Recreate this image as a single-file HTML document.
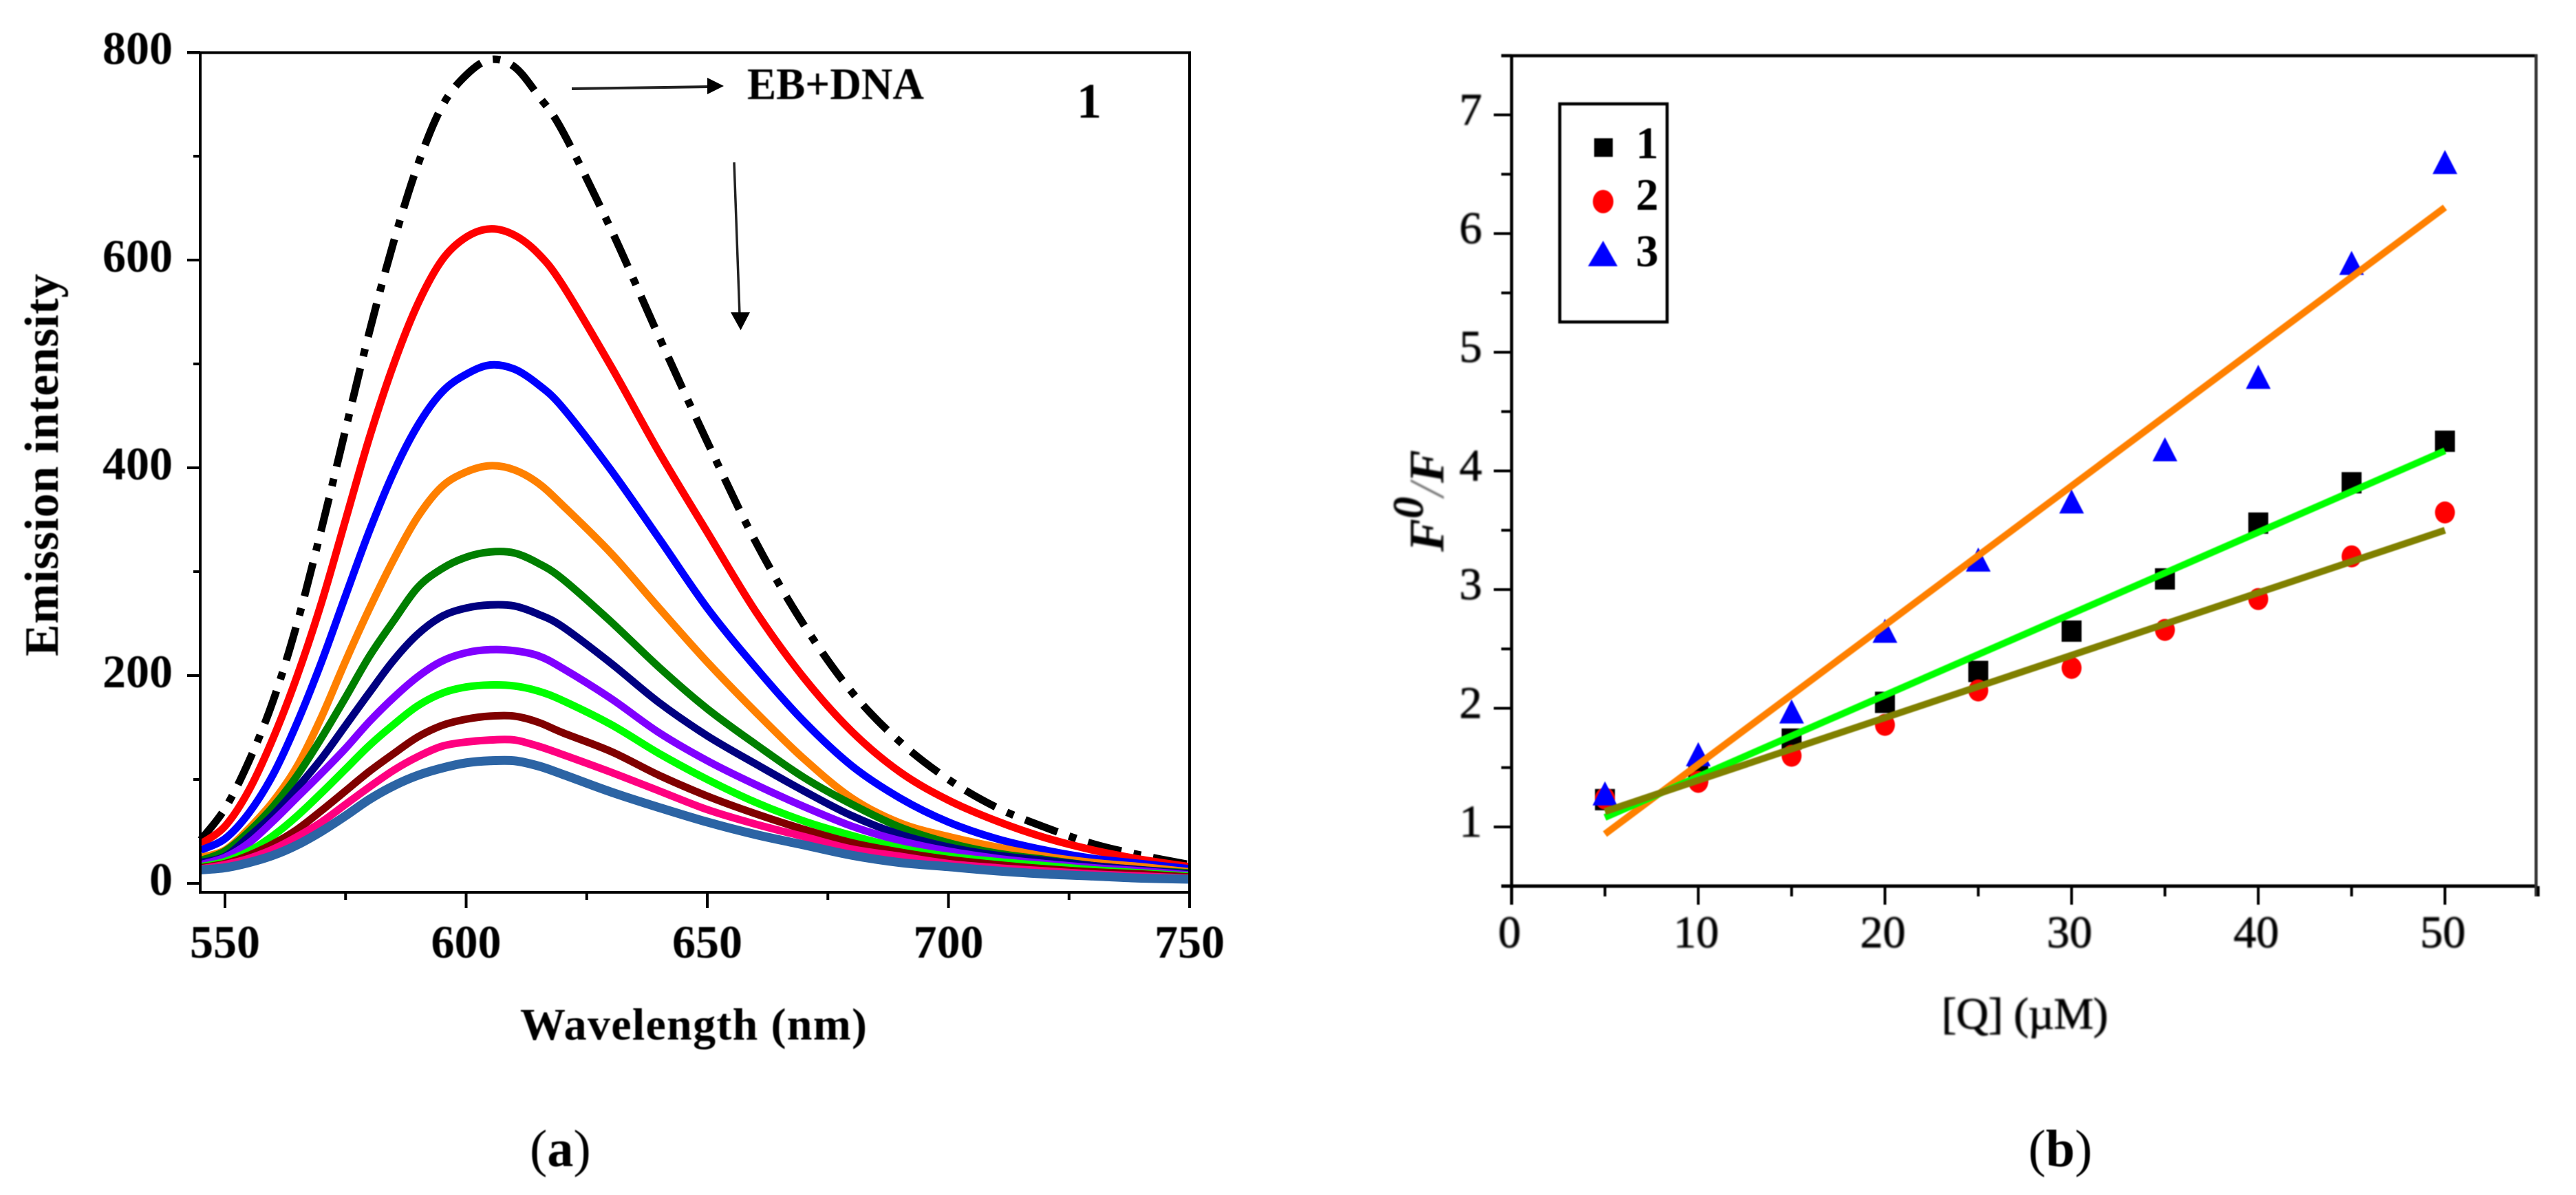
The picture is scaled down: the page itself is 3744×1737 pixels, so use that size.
<!DOCTYPE html>
<html lang="en">
<head>
<meta charset="utf-8">
<title>Emission spectra and Stern-Volmer plot</title>
<style>
  html, body { margin: 0; padding: 0; background: #fff; }
  svg { display: block; }
  text { font-family: "Liberation Serif", "Times New Roman", serif; fill: #000; }
  .soft { filter: blur(0.9px); }
  .softer { filter: blur(1.2px); }
</style>
</head>
<body>
<svg id="figure" width="3744" height="1737" viewBox="0 0 3744 1737" xmlns="http://www.w3.org/2000/svg">
  <rect width="3744" height="1737" fill="#ffffff"/>

  <g id="panel-a">
    <g id="a-curves"></g>
    <g id="a-axes"></g>
    <g id="a-labels" class="soft"></g>
    <text class="soft" transform="translate(84,954) rotate(-90)" font-size="70" font-weight="bold" textLength="556" lengthAdjust="spacing">Emission intensity</text>
    <text class="soft" x="756" y="1511" font-size="66" font-weight="bold" textLength="504" lengthAdjust="spacing">Wavelength (nm)</text>
    <text class="soft" x="1086" y="144" font-size="66" font-weight="bold" textLength="257" lengthAdjust="spacingAndGlyphs">EB+DNA</text>
    <text class="soft" x="1565" y="171" font-size="72" font-weight="bold">1</text>
    <g>
      <line x1="831" y1="129" x2="1032" y2="126" stroke="#222" stroke-width="4"/>
      <polygon points="1028,113 1052,125 1028,137" fill="#000"/>
    </g>
    <g>
      <line x1="1067" y1="236" x2="1075" y2="458" stroke="#222" stroke-width="3.5"/>
      <polygon points="1062,454 1090,454 1076.5,480" fill="#000"/>
    </g>
    <text class="soft" x="770" y="1695" font-size="76">(<tspan font-weight="bold">a</tspan>)</text>
  </g>

  <g id="panel-b">
    <g id="b-axes" class="soft"></g>
    <g id="b-marks" class="soft"></g>
    <g id="b-labels" class="softer"></g>
    <text class="softer" transform="translate(2098,802) rotate(-90)" font-size="72" font-weight="bold" font-style="italic">F<tspan dy="-30" font-size="64">0</tspan><tspan dy="30" font-weight="normal" style="fill:#777">/</tspan>F</text>
    <text class="softer" x="2822" y="1495" font-size="65" textLength="242" lengthAdjust="spacing" stroke="#000" stroke-width="0.8">[Q] (µM)</text>
    <g class="soft">
      <rect x="2267" y="151" width="156" height="317" fill="none" stroke="#000" stroke-width="4.5"/>
      <rect x="2317" y="201" width="27" height="27" fill="#000"/>
      <ellipse cx="2330" cy="293" rx="15" ry="17" fill="#ff0000"/>
      <polygon points="2330,350 2351,387 2308,387" fill="#0000ff"/>
      <text x="2394" y="230" font-size="66" font-weight="bold" text-anchor="middle">1</text>
      <text x="2394" y="305" font-size="66" font-weight="bold" text-anchor="middle">2</text>
      <text x="2394" y="387" font-size="66" font-weight="bold" text-anchor="middle">3</text>
    </g>
    <text class="soft" x="2948" y="1695" font-size="76">(<tspan font-weight="bold">b</tspan>)</text>
  </g>
</svg>

<script>
// ---------- Panel (a) data ----------
const wavelengths = [545,550,555,560,565,570,575,580,585,590,595,600,605,610,615,620,630,640,650,660,670,680,690,700,710,720,730,740,750];
const ebDna   = [42,72,118,176,251,341,437,532,618,692,748,778,793,786,758,724,630,526,425,329,249,184,136,100,73,54,38,27,18];
const conc1   = [38,55,90,140,200,270,350,430,500,558,600,622,630,624,606,576,498,415,338,262,198,146,107,80,60,44,32,23,16];
const conc2   = [32,43,68,105,155,213,277,340,396,441,473,490,499,495,480,458,398,332,265,208,156,113,82,59,43,32,24,19,14];
const conc3   = [25,32,53,79,113,160,214,265,312,353,382,396,402,398,385,364,318,265,213,165,120,82,58,45,35,26,20,16,11];
const conc4   = [22,31,50,74,104,140,179,219,253,285,303,314,319,318,308,293,252,208,168,134,102,76,54,39,29,23,17,13,10];
const conc5   = [20,26,45,66,92,120,152,184,215,240,257,265,268,267,259,247,212,174,142,115,89,65,47,35,27,22,17,13,9];
const conc6   = [18,25,39,60,83,106,130,156,179,199,214,222,225,224,219,207,178,145,118,95,74,55,41,31,24,19,15,12,8];
const conc7   = [16,21,31,46,65,87,110,133,153,171,183,189,191,190,185,176,153,125,100,78,60,46,34,26,21,17,13,10,7];
const conc8   = [15,19,27,38,52,70,89,108,125,141,152,158,161,161,155,145,127,104,84,67,52,39,30,23,18,14,11,9,6];
const conc9   = [14,18,24,33,45,59,76,93,109,122,132,136,138,138,132,124,107,89,71,57,45,33,26,19,15,12,9,7,5];
const conc10  = [13,15,20,27,37,50,65,81,94,104,111,116,118,118,113,105,88,73,59,47,37,27,20,16,12,9,7,5,4];
const emissionSeries = [ebDna,conc1,conc2,conc3,conc4,conc5,conc6,conc7,conc8,conc9,conc10];
const emissionNames = ['eb-dna','conc-1','conc-2','conc-3','conc-4','conc-5','conc-6','conc-7','conc-8','conc-9','conc-10'];
const emissionColors = ['#000000','#ff0000','#0000ff','#ff8000','#007f00','#000080','#8000ff','#00ff00','#800000','#ff0080','#2c64a4'];
const aYTicks = [0,200,400,600,800];
const aYMinor = [100,300,500,700];
const aXTicks = [550,600,650,700,750];
const aXMinor = [575,625,675,725];

// ---------- Panel (b) data ----------
const qValues = [5,10,15,20,25,30,35,40,45,50];
const ratio1 = [1.23,1.46,1.74,2.05,2.31,2.65,3.09,3.56,3.90,4.25];
const ratio2 = [1.24,1.38,1.60,1.86,2.15,2.34,2.66,2.92,3.28,3.65];
const ratio3 = [1.28,1.61,1.97,2.65,3.25,3.74,4.18,4.79,5.75,6.60];
const fitQ = [5,50];
const fit3 = [0.94,6.22];
const fit1 = [1.08,4.17];
const fit2 = [1.13,3.50];
const bYTicks = [1,2,3,4,5,6,7];
const bYMinor = [0.5,1.5,2.5,3.5,4.5,5.5,6.5,7.5];
const bXTicks = [0,10,20,30,40,50];
const bXMinor = [5,15,25,35,45,55];

// ---------- Axis functions ----------
const ax = w => 327 + (w - 550) * 7.01;
const ay = v => 1284 - v * 1.51;
const bx = q => 2197 + q * 27.13;
const by = r => 1202 - (r - 1) * 172.5;

const NS = 'http://www.w3.org/2000/svg';
function mk(tag, parent, attrs) {
  const el = document.createElementNS(NS, tag);
  for (const k in attrs) el.setAttribute(k, attrs[k]);
  parent.appendChild(el);
  return el;
}
function smoothPath(xs, ys) {
  let d = 'M' + xs[0].toFixed(1) + ' ' + ys[0].toFixed(1);
  for (let i = 0; i < xs.length - 1; i++) {
    const x0 = xs[Math.max(i - 1, 0)], y0 = ys[Math.max(i - 1, 0)];
    const x1 = xs[i], y1 = ys[i], x2 = xs[i + 1], y2 = ys[i + 1];
    const x3 = xs[Math.min(i + 2, xs.length - 1)], y3 = ys[Math.min(i + 2, xs.length - 1)];
    d += 'C' + (x1 + (x2 - x0) / 6).toFixed(1) + ' ' + (y1 + (y2 - y0) / 6).toFixed(1) + ' ' +
         (x2 - (x3 - x1) / 6).toFixed(1) + ' ' + (y2 - (y3 - y1) / 6).toFixed(1) + ' ' +
         x2.toFixed(1) + ' ' + y2.toFixed(1);
  }
  return d;
}

// ---------- Panel (a) ----------
const aCurves = document.getElementById('a-curves');
const aAxes = document.getElementById('a-axes');
const aLabels = document.getElementById('a-labels');

emissionSeries.forEach((vals, i) => {
  const isDashed = i === 0;
  const p = mk('path', aCurves, {
    d: smoothPath(wavelengths.map(ax), vals.map(ay)),
    fill: 'none',
    stroke: emissionColors[i],
    'stroke-width': i === 10 ? 13 : 11,
    'stroke-linejoin': 'round'
  });
  
  
  if (isDashed) p.setAttribute('stroke-dasharray', '50 18 11 18');
});

function aLine(x1, y1, x2, y2, name, w) {
  const l = mk('line', aAxes, { x1: x1, y1: y1, x2: x2, y2: y2, stroke: '#000', 'stroke-width': w || 4 });
  
  
}
aLine(272, 76.5, 1731, 76.5, 'panel-a-top-axis');
aLine(291, 75, 291, 1299, 'panel-a-left-axis');
aLine(289, 1297, 1731, 1297, 'panel-a-bottom-axis');
aLine(1729, 75, 1729, 1320, 'panel-a-right-axis');
aYTicks.forEach(v => {
  aLine(272, ay(v), 291, ay(v), 'y-tick-' + v);
  const t = mk('text', aLabels, { x: 251, y: ay(v) + 17, 'font-size': 68, 'font-weight': 'bold', 'text-anchor': 'end' });
  
  
  t.textContent = v;
});
aYMinor.forEach(v => aLine(281, ay(v), 291, ay(v), 'y-minor-tick-' + v));
aXTicks.forEach(w => {
  aLine(ax(w), 1297, ax(w), 1320, 'x-tick-' + w);
  const t = mk('text', aLabels, { x: ax(w), y: 1392, 'font-size': 68, 'font-weight': 'bold', 'text-anchor': 'middle' });
  
  
  t.textContent = w;
});
aXMinor.forEach(w => aLine(ax(w), 1297, ax(w), 1308, 'x-minor-tick-' + w));

// ---------- Panel (b) ----------
const bAxes = document.getElementById('b-axes');
const bMarks = document.getElementById('b-marks');
const bLabels = document.getElementById('b-labels');

function bLine(x1, y1, x2, y2, name, w, c) {
  const l = mk('line', bAxes, { x1: x1, y1: y1, x2: x2, y2: y2, stroke: c || '#000', 'stroke-width': w || 4 });
  
  
}
bLine(2182, 81, 3688, 81, 'panel-b-top-axis', 4.5);
bLine(2197, 81, 2197, 1315, 'panel-b-left-axis', 4.5);
bLine(2182, 1288, 3688, 1288, 'panel-b-bottom-axis', 5);
bLine(3686, 79, 3686, 1303, 'panel-b-right-axis', 4.5, '#333');
bYTicks.forEach(r => {
  bLine(2171, by(r), 2197, by(r), 'b-y-tick-' + r);
  const t = mk('text', bLabels, { x: 2154, y: by(r) + 14, 'font-size': 66, 'text-anchor': 'end', stroke: '#000', 'stroke-width': 0.8 });
  
  
  t.textContent = r;
});
bYMinor.forEach(r => bLine(2182, by(r), 2197, by(r), 'b-y-minor-tick-' + r));
bXTicks.forEach(q => {
  bLine(bx(q), 1288, bx(q), 1315, 'b-x-tick-' + q);
  const t = mk('text', bLabels, { x: bx(q) - 3, y: 1377, 'font-size': 66, 'text-anchor': 'middle', stroke: '#000', 'stroke-width': 0.8 });
  
  
  t.textContent = q;
});
bXMinor.forEach(q => bLine(bx(q), 1288, bx(q), 1303, 'b-x-minor-tick-' + q));

qValues.forEach((q, i) => {
  const s = mk('rect', bMarks, { x: bx(q) - 14.5, y: by(ratio1[i]) - 15.5, width: 29, height: 31, fill: '#000000' });
  
  
});
qValues.forEach((q, i) => {
  const c = mk('ellipse', bMarks, { cx: bx(q), cy: by(ratio2[i]), rx: 14.5, ry: 16, fill: '#ff0000' });
  
  
});
qValues.forEach((q, i) => {
  const X = bx(q), Y = by(ratio3[i]);
  const t = mk('polygon', bMarks, { points: X + ',' + (Y - 18) + ' ' + (X + 18) + ',' + (Y + 17) + ' ' + (X - 18) + ',' + (Y + 17), fill: '#0000ff' });
  
  
});
[[fit3, '#ff8000', 'fit-line-series-3'], [fit1, '#00ff00', 'fit-line-series-1'], [fit2, '#808000', 'fit-line-series-2']].forEach(f => {
  const l = mk('line', bMarks, { x1: bx(fitQ[0]), y1: by(f[0][0]), x2: bx(fitQ[1]), y2: by(f[0][1]), stroke: f[1], 'stroke-width': 10 });
  
  
});
</script>
</body>
</html>
